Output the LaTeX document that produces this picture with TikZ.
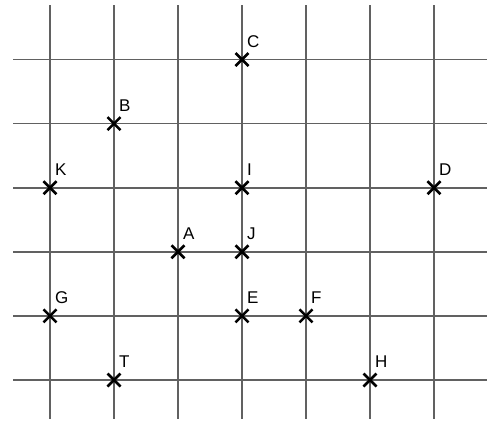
\documentclass[tikz,border=0pt]{standalone}
\usepackage{fontspec}
\setmainfont{Liberation Sans}
\begin{document}
\begin{tikzpicture}[x=1pt,y=-1pt,
  gridline/.style={draw=black!62,line width=1.6},
  crossmark/.style={draw=black,line width=2.6},
  lbl/.style={anchor=base west,inner sep=0,font=\fontsize{17}{17}\selectfont}]
\useasboundingbox (0,0) rectangle (496,421);
\foreach \i in {0,...,6} {
  \draw[gridline] (50+64*\i,5) -- (50+64*\i,419);
}
\foreach \j in {0,...,5} {
  \draw[gridline] (13,59.5+64.1*\j) -- (487,59.5+64.1*\j);
}
\foreach \nm/\c/\r in {C/3/0,B/1/1,K/0/2,I/3/2,D/6/2,A/2/3,J/3/3,G/0/4,E/3/4,F/4/4,T/1/5,H/5/5} {
  \coordinate (p\nm) at (50+64*\c,59.5+64.1*\r);
  \draw[crossmark] ([shift={(-6.5,-6.5)}]p\nm) -- ([shift={(6.5,6.5)}]p\nm);
  \draw[crossmark] ([shift={(-6.5,6.5)}]p\nm) -- ([shift={(6.5,-6.5)}]p\nm);
  \node[lbl] (l\nm) at ([shift={(5,-12.5)}]p\nm) {\nm};
}
\end{tikzpicture}
\end{document}
